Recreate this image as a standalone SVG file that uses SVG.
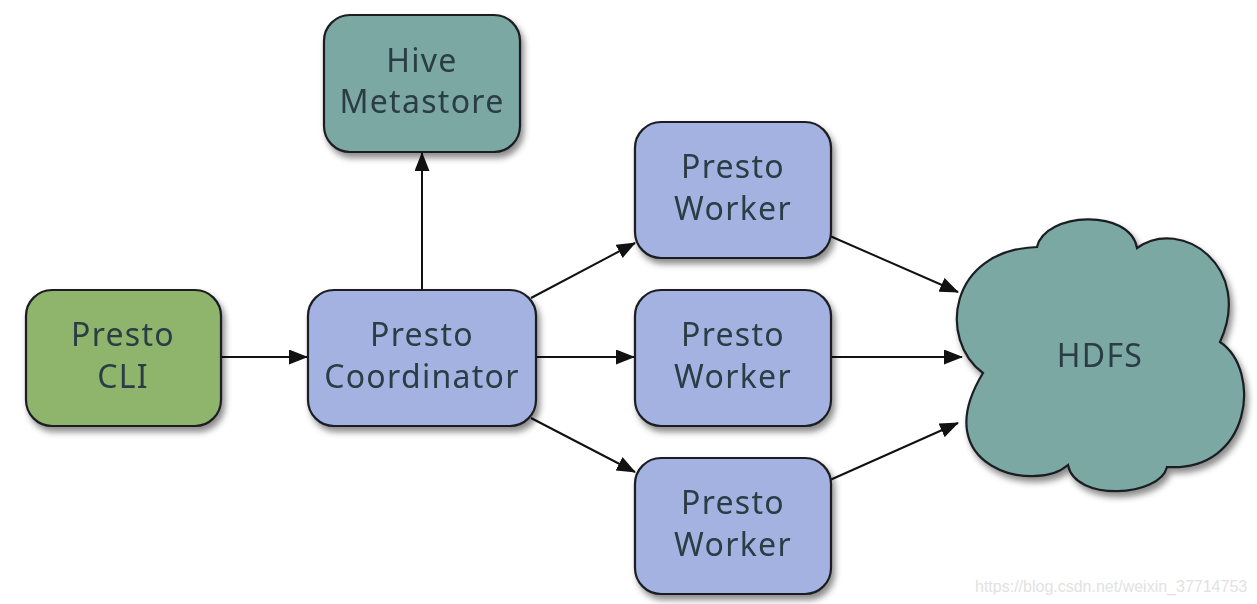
<svg xmlns="http://www.w3.org/2000/svg" width="1257" height="604" viewBox="0 0 1257 604">
<style>
.box{stroke:#1a1f22;stroke-width:2.2}
.green{fill:#8fb46c}
.teal{fill:#7ba8a4}
.blue{fill:#a3b2e0}
.lbl{font-family:"Noto Sans","Open Sans",sans-serif;font-size:32px;fill:#2c3c44;text-anchor:middle;letter-spacing:1.3px}
.edge{stroke:#111;stroke-width:2;fill:none;marker-end:url(#ah)}
.wm{font-family:"Liberation Sans",Arial,sans-serif;font-size:16px;fill:#e2e2e2}
</style>
<defs>
<marker id="ah" markerWidth="19" markerHeight="15" refX="18" refY="7.5" orient="auto" markerUnits="userSpaceOnUse">
<path d="M0,0 L19,7.5 L0,15 Z" fill="#111"/>
</marker>
<filter id="sh" x="-10%" y="-10%" width="130%" height="130%">
<feDropShadow dx="3" dy="5" stdDeviation="3" flood-color="#000" flood-opacity="0.45"/>
</filter>
</defs>
<rect width="1257" height="604" fill="#fff"/>
<g id="connectors">
<line class="edge" x1="221" y1="357" x2="307" y2="357"/>
<line class="edge" x1="422" y1="290" x2="422" y2="153"/>
<line class="edge" x1="531" y1="298" x2="635" y2="243"/>
<line class="edge" x1="536" y1="357" x2="634" y2="357"/>
<line class="edge" x1="531" y1="418" x2="635" y2="472"/>
<line class="edge" x1="830" y1="236" x2="958" y2="292"/>
<line class="edge" x1="830" y1="357" x2="962" y2="357"/>
<line class="edge" x1="830" y1="480" x2="958" y2="423"/>
</g>
<g id="cli" filter="url(#sh)">
<rect class="box green" x="26" y="290" width="195" height="136" rx="26"/>
<text class="lbl" x="123" y="346">Presto</text>
<text class="lbl" x="123" y="388">CLI</text>
</g>
<g id="hive" filter="url(#sh)">
<rect class="box teal" x="324" y="15" width="196" height="137" rx="26"/>
<text class="lbl" x="422" y="72">Hive</text>
<text class="lbl" x="422" y="113">Metastore</text>
</g>
<g id="coordinator" filter="url(#sh)">
<rect class="box blue" x="308" y="290" width="228" height="136" rx="26"/>
<text class="lbl" x="422" y="346">Presto</text>
<text class="lbl" x="422" y="388">Coordinator</text>
</g>
<g id="worker1" filter="url(#sh)">
<rect class="box blue" x="635" y="122" width="196" height="136" rx="26"/>
<text class="lbl" x="733" y="178">Presto</text>
<text class="lbl" x="733" y="220">Worker</text>
</g>
<g id="worker2" filter="url(#sh)">
<rect class="box blue" x="635" y="290" width="196" height="136" rx="26"/>
<text class="lbl" x="733" y="346">Presto</text>
<text class="lbl" x="733" y="388">Worker</text>
</g>
<g id="worker3" filter="url(#sh)">
<rect class="box blue" x="635" y="458" width="196" height="136" rx="26"/>
<text class="lbl" x="733" y="514">Presto</text>
<text class="lbl" x="733" y="556">Worker</text>
</g>
<g id="hdfs" filter="url(#sh)">
<path class="box teal" d="M983,373 C938,340 948,250 1037,247 C1045,212 1130,208 1137,248 C1182,216 1254,268 1220,342 C1262,370 1252,472 1167,467 C1160,497 1075,502 1068,465 C1035,494 925,468 983,373 Z"/>
<text class="lbl" x="1100" y="367">HDFS</text>
</g>
<text class="wm" x="975" y="592">https://blog.csdn.net/weixin_37714753</text>
</svg>
